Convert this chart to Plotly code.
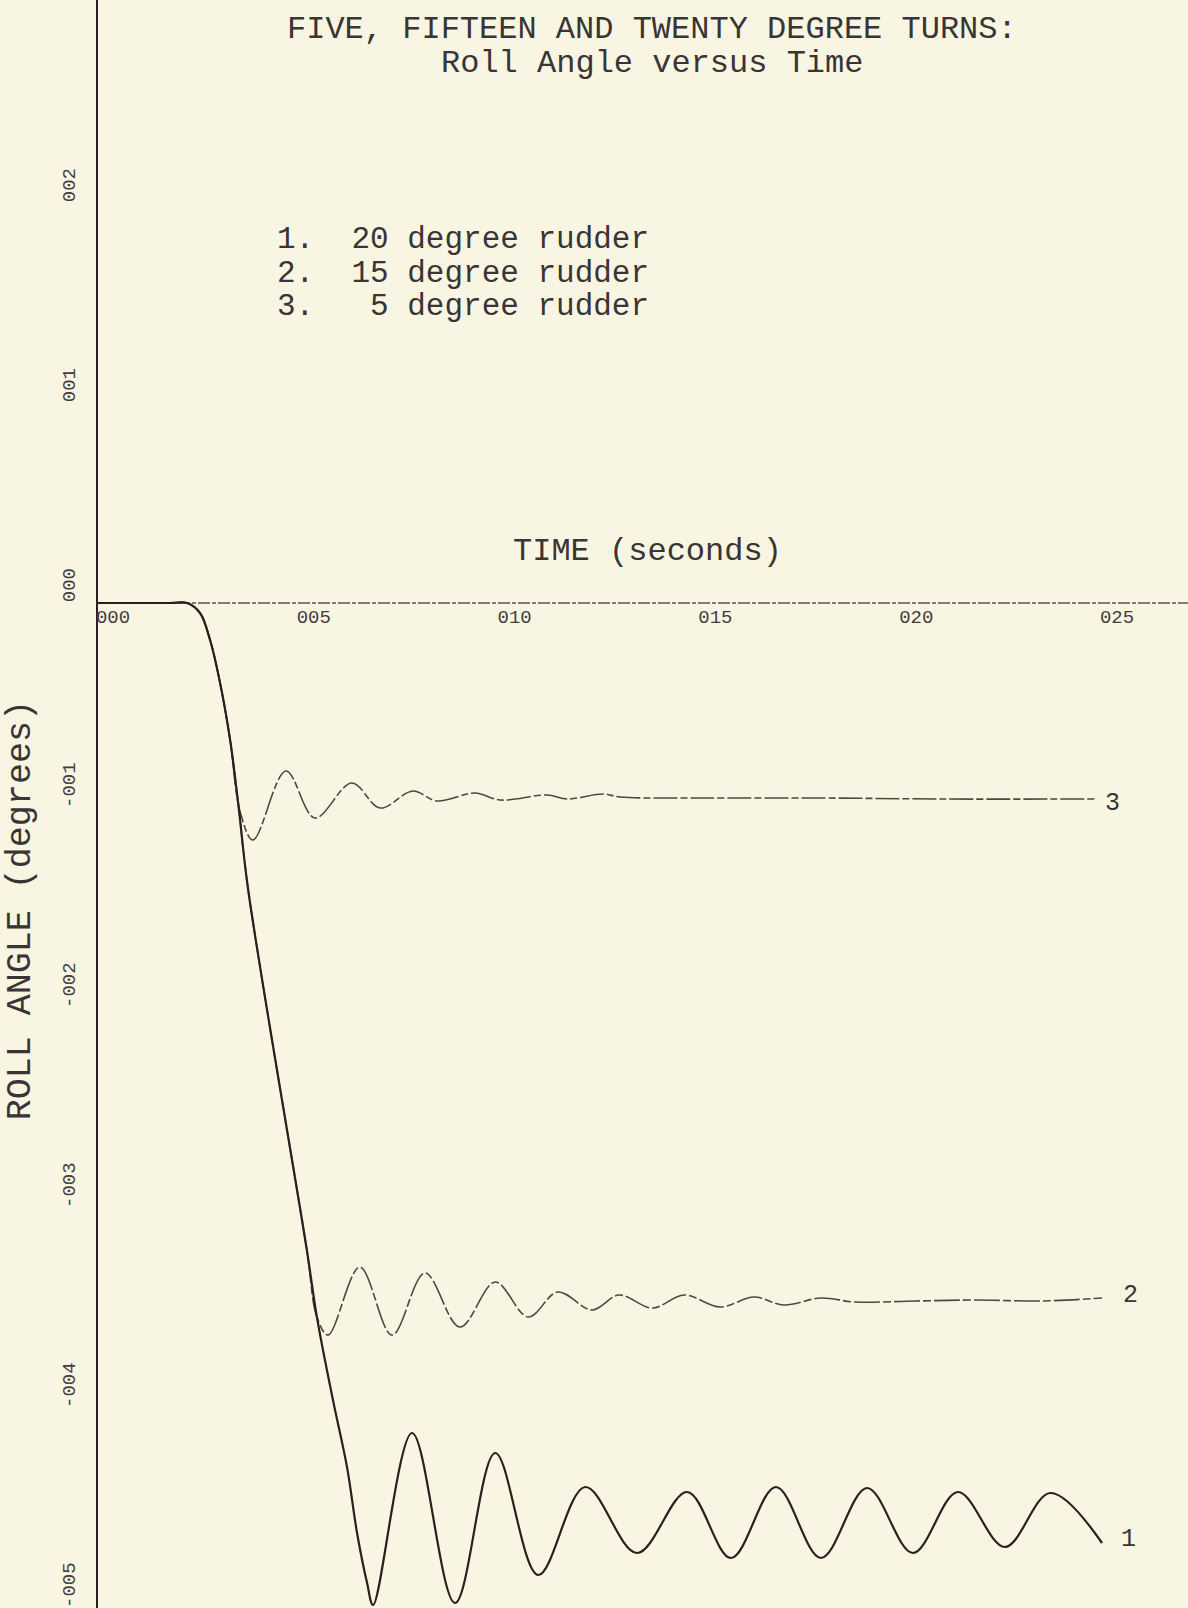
import plotly.graph_objects as go

# ---------------- data ----------------
x_tick_vals = [0, 5, 10, 15, 20, 25]
x_tick_text = ["000", "005", "010", "015", "020", "025"]
y_tick_vals = [2, 1, 0, -1, -2, -3, -4, -5]
y_tick_text = ["002", "001", "000", "-001", "-002", "-003", "-004", "-005"]

# curve 1: 20 degree rudder
t_20 = [0, 1.0, 1.8, 2.22, 2.54, 2.79, 3.04, 3.29, 3.49, 3.74, 5.20, 5.45, 5.85, 6.20, 6.45, 6.70, 6.85,
        7.82, 8.89, 9.89, 10.96, 12.13, 13.42, 14.67, 15.76, 16.88, 18.0, 19.15, 20.29,
        21.41, 22.58, 23.71, 25.0]
roll_20 = [0, 0, 0, 0, -0.05, -0.185, -0.40, -0.685, -1.0, -1.435, -3.235, -3.57, -3.985, -4.32, -4.65,
           -4.90, -5.01, -4.15, -5.0, -4.25, -4.86, -4.42, -4.75, -4.445, -4.775, -4.42, -4.775,
           -4.425, -4.75, -4.445, -4.72, -4.45, -4.70]

# curve 2: 15 degree rudder
t_15 = [0, 1.0, 1.8, 2.22, 2.54, 2.79, 3.04, 3.29, 3.49, 3.74, 5.20, 5.45, 5.73, 6.52, 7.32, 8.14, 9.01,
        9.89, 10.71, 11.45, 12.30, 12.97, 13.80, 14.59, 15.49, 16.33, 17.08, 18.0, 18.85,
        20.34, 21.84, 23.51, 25.0]
roll_15 = [0, 0, 0, 0, -0.05, -0.185, -0.40, -0.685, -1.0, -1.435, -3.235, -3.57, -3.66, -3.32, -3.66,
           -3.35, -3.62, -3.395, -3.57, -3.445, -3.535, -3.46, -3.525, -3.46, -3.52, -3.47, -3.51,
           -3.475, -3.495, -3.49, -3.485, -3.49, -3.475]

# curve 3: 5 degree rudder
t_5 = [0, 1.0, 1.8, 2.22, 2.54, 2.79, 3.04, 3.29, 3.54, 3.86, 4.68, 5.40, 6.32, 7.02, 7.84, 8.44, 9.39,
       10.01, 11.18, 11.68, 12.57, 13.0, 15.0, 18.0, 21.0, 24.85]
roll_5 = [0, 0, 0, 0, -0.05, -0.185, -0.40, -0.685, -1.045, -1.185, -0.84, -1.075, -0.90, -1.025, -0.94,
          -0.99, -0.95, -0.985, -0.96, -0.98, -0.955, -0.97, -0.975, -0.975, -0.98, -0.98]

curve_labels = ["1", "2", "3"]
curve_label_t = [25.65, 25.72, 25.27]
curve_label_y = [-4.68, -3.46, -1.0]

legend_lines = ["1.\u00a0\u00a020 degree rudder",
                "2.\u00a0\u00a015 degree rudder",
                "3.\u00a0\u00a0\u00a05 degree rudder"]

title_lines = ["FIVE, FIFTEEN AND TWENTY DEGREE TURNS:", "Roll Angle versus Time"]
x_title = "TIME (seconds)"
y_title = "ROLL ANGLE (degrees)"

# ---------------- styling ----------------
BG = "#f8f6e2"
INK = "#2c1f1f"
GREY = "#4d4747"
TXT = "#3a3434"
TICK = "#463c3c"
FONT = "Liberation Mono"

fig = go.Figure()

fig.add_trace(go.Scatter(x=t_5, y=roll_5, mode="lines", line_shape="spline",
                         line=dict(color=GREY, width=1.6, dash="24px,3px,7px,3px"),
                         hoverinfo="skip", showlegend=False))
fig.add_trace(go.Scatter(x=t_15, y=roll_15, mode="lines", line_shape="spline",
                         line=dict(color=GREY, width=1.6, dash="26px,3px,8px,3px"),
                         hoverinfo="skip", showlegend=False))
fig.add_trace(go.Scatter(x=t_20, y=roll_20, mode="lines", line_shape="spline",
                         line=dict(color=INK, width=2.2),
                         hoverinfo="skip", showlegend=False))

# curve end labels
for lab, tx, ty in zip(curve_labels, curve_label_t, curve_label_y):
    fig.add_annotation(x=tx, y=ty, xref="x", yref="y", text=lab, showarrow=False,
                       font=dict(family=FONT, size=25, color=TXT), xanchor="center", yanchor="middle")

# x axis (dashed line at zero)
fig.add_shape(type="line", xref="x domain", yref="y", x0=0, x1=1, y0=0, y1=0,
              line=dict(color="#5a5252", width=1.3, dash="12px,2px,4px,2px"), layer="below")

# title
title_y = [1 - 30 / 1608, 1 - 63 / 1608]
for txt, ty in zip(title_lines, title_y):
    fig.add_annotation(x=0.508, y=ty, xref="paper", yref="paper", text=txt, showarrow=False,
                       font=dict(family=FONT, size=32, color=TXT), xanchor="center", yanchor="middle")

# legend text
legend_y = [1 - 240 / 1608, 1 - 273 / 1608, 1 - 306 / 1608]
for txt, ly in zip(legend_lines, legend_y):
    fig.add_annotation(x=0.1624, y=ly, xref="paper", yref="paper", text=txt, showarrow=False,
                       font=dict(family=FONT, size=31, color=TXT), xanchor="left", yanchor="middle")

# axis titles
fig.add_annotation(x=0.504, y=0.657, xref="paper", yref="paper", text=x_title, showarrow=False,
                   font=dict(family=FONT, size=32, color=TXT), xanchor="center", yanchor="middle")
fig.add_annotation(x=-0.0706, y=0.434, xref="paper", yref="paper", text=y_title, showarrow=False,
                   textangle=-90, font=dict(family=FONT, size=35, color=TXT),
                   xanchor="center", yanchor="middle")

fig.update_layout(
    width=1188, height=1608,
    margin=dict(l=98, r=0, t=0, b=0),
    paper_bgcolor=BG, plot_bgcolor=BG,
    showlegend=False,
    xaxis=dict(range=[0, 27.14], tickvals=x_tick_vals, ticktext=x_tick_text,
               anchor="free", position=0.625, side="bottom",
               showgrid=False, zeroline=False, showline=False, ticks="",
               tickfont=dict(family=FONT, size=19, color=TICK),
               ticklabelshift=15, ticklabelstandoff=0),
    yaxis=dict(range=[-5.025, 3.015], tickvals=y_tick_vals, ticktext=y_tick_text,
               showgrid=False, zeroline=False, showline=True, linecolor=INK, linewidth=2,
               ticks="", tickangle=-90,
               tickfont=dict(family=FONT, size=19, color=TICK),
               ticklabelshift=-15, ticklabelstandoff=13),
)

fig.write_html("out.html", config={"displayModeBar": False},
               post_script="document.body.style.margin='0px';document.body.style.background='#f8f6e2';")
